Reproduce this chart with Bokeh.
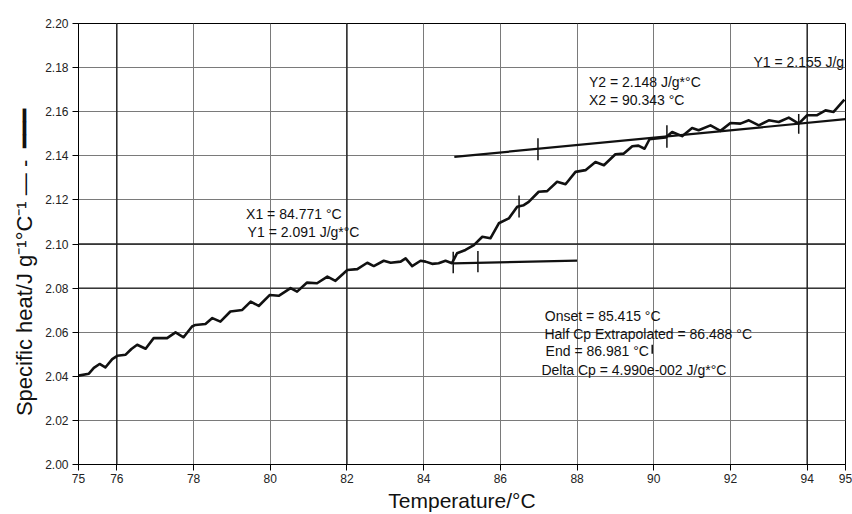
from bokeh.plotting import figure
from bokeh.models import FixedTicker, PrintfTickFormatter, Span, ColumnDataSource
from bokeh.core.properties import value
from bokeh.embed import file_html
from bokeh.resources import INLINE

# ---- data ----
temp = [75.00, 75.27, 75.40, 75.55, 75.70, 75.88, 76.01, 76.23, 76.38, 76.53, 76.75, 76.96,
        77.31, 77.53, 77.74, 77.96, 78.05, 78.31, 78.49, 78.70, 78.96, 79.27, 79.49, 79.70,
        79.99, 80.22, 80.53, 80.70, 80.96, 81.22, 81.49, 81.70, 82.01, 82.27, 82.53, 82.70,
        82.96, 83.14, 83.40, 83.53, 83.70, 83.92, 84.05, 84.22, 84.39, 84.57, 84.74, 84.87,
        85.09, 85.31, 85.53, 85.74, 85.96, 86.22, 86.44, 86.61, 86.74, 87.00, 87.22, 87.48,
        87.70, 87.96, 88.22, 88.48, 88.70, 89.00, 89.22, 89.44, 89.60, 89.76, 89.89, 90.00,
        90.31, 90.48, 90.74, 91.00, 91.17, 91.48, 91.74, 92.00, 92.26, 92.48, 92.74, 93.00,
        93.26, 93.52, 93.78, 94.00, 94.26, 94.48, 94.69, 94.97]
cp = [2.0403, 2.0412, 2.0438, 2.0456, 2.0440, 2.0478, 2.0493, 2.0498, 2.0524, 2.0543, 2.0525, 2.0573,
      2.0573, 2.0599, 2.0577, 2.0626, 2.0633, 2.0637, 2.0664, 2.0648, 2.0694, 2.0701, 2.0739, 2.0719,
      2.0769, 2.0765, 2.0800, 2.0784, 2.0825, 2.0822, 2.0852, 2.0833, 2.0882, 2.0886, 2.0915, 2.0900,
      2.0924, 2.0915, 2.0920, 2.0935, 2.0900, 2.0924, 2.0920, 2.0910, 2.0913, 2.0924, 2.0913, 2.0958,
      2.0973, 2.0995, 2.1033, 2.1026, 2.1094, 2.1116, 2.1169, 2.1176, 2.1191, 2.1237, 2.1240, 2.1282,
      2.1271, 2.1327, 2.1335, 2.1372, 2.1357, 2.1407, 2.1410, 2.1443, 2.1446, 2.1432, 2.1475, 2.1478,
      2.1483, 2.1508, 2.1489, 2.1526, 2.1516, 2.1538, 2.1513, 2.1549, 2.1546, 2.1561, 2.1538, 2.1561,
      2.1553, 2.1573, 2.1546, 2.1584, 2.1584, 2.1606, 2.1599, 2.1655]

base_x = [84.771, 88.0]
base_y = [2.0912, 2.0925]
upper_x = [84.80, 95.0]
upper_y = [2.1395, 2.1566]

mark_x = [84.771, 85.415, 86.488, 86.981, 90.343, 93.78, 89.96]
mark_y0 = [2.0867, 2.0872, 2.1120, 2.1380, 2.1437, 2.1500, 2.0502]
mark_y1 = [2.0965, 2.0968, 2.1220, 2.1480, 2.1538, 2.1590, 2.0543]

note_text = ["X1 = 84.771 °C", "Y1 = 2.091 J/g*°C",
             "Y2 = 2.148 J/g*°C", "X2 = 90.343 °C",
             "Y1 = 2.155 J/g",
             "Onset = 85.415 °C", "Half Cp Extrapolated = 86.488 °C",
             "End = 86.981 °C", "Delta Cp = 4.990e-002 J/g*°C"]
note_x = [79.37, 79.41, 88.31, 88.31, 92.60, 87.16, 87.15, 87.18, 87.07]
note_y = [2.1136, 2.1053, 2.1733, 2.1652, 2.1824, 2.0674, 2.0591, 2.0513, 2.0430]

x_ticks = [75, 76, 78, 80, 82, 84, 86, 88, 90, 92, 94, 95]
y_ticks = [2.00, 2.02, 2.04, 2.06, 2.08, 2.10, 2.12, 2.14, 2.16, 2.18, 2.20]
dark_x = [76, 82, 94]
dark_y = [2.08, 2.10]

FONT = "Liberation Sans"

p = figure(width=852, height=514, x_range=(75, 95), y_range=(2.00, 2.20),
           output_backend="svg", toolbar_location=None,
           min_border_left=78, min_border_right=7, min_border_top=23, min_border_bottom=49)
p.background_fill_color = "white"
p.border_fill_color = "white"
p.outline_line_color = "black"
p.outline_line_width = 1

p.xaxis.ticker = FixedTicker(ticks=x_ticks)
p.yaxis.ticker = FixedTicker(ticks=y_ticks)
p.xaxis.formatter = PrintfTickFormatter(format="%d")
p.yaxis.formatter = PrintfTickFormatter(format="%.2f")
for ax in (p.xaxis, p.yaxis):
    ax.axis_line_color = "black"
    ax.major_tick_line_color = "black"
    ax.major_tick_out = 6
    ax.major_tick_in = 0
    ax.minor_tick_line_color = None
    ax.major_label_text_font = FONT
    ax.major_label_text_font_size = "12px"
    ax.major_label_text_color = "#222222"
    ax.axis_label_text_font = FONT
    ax.axis_label_text_font_style = "normal"
    ax.axis_label_text_color = "#111111"
p.xaxis.axis_label_text_font_size = "21px"
p.yaxis.axis_label_text_font_size = "22px"
p.xaxis.major_label_standoff = 3
p.yaxis.major_label_standoff = 4
p.xaxis.axis_label = "Temperature/°C"
p.xaxis.axis_label_standoff = 3
p.yaxis.axis_label = ("Specific heat/J g⁻¹°C⁻¹\u00a0—\u00a0-\u00a0\u00a0━━━"
                      + "\u00a0" * 6)
p.yaxis.axis_label_standoff = 5

p.xgrid.grid_line_color = "#7a7a7a"
p.ygrid.grid_line_color = "#7a7a7a"
p.xgrid.grid_line_width = 1
p.ygrid.grid_line_width = 1

for v in dark_x:
    p.add_layout(Span(location=v, dimension="height", line_color="#222222",
                      line_width=1.4, level="underlay"))
for v in dark_y:
    p.add_layout(Span(location=v, dimension="width", line_color="#222222",
                      line_width=1.4, level="underlay"))

p.line(temp, cp, line_color="#111111", line_width=2.6, line_join="round")
p.line(base_x, base_y, line_color="#111111", line_width=2.2)
p.line(upper_x, upper_y, line_color="#111111", line_width=2.2)
p.segment(x0=mark_x, y0=mark_y0, x1=mark_x, y1=mark_y1, line_color="#111111", line_width=1.5)

src = ColumnDataSource(dict(x=note_x, y=note_y, t=note_text))
p.text(x="x", y="y", text="t", source=src, text_font=value(FONT),
       text_font_size="14px", text_color="#111111", text_align="left",
       text_baseline="middle")

open("out.html", "w").write(file_html(p, INLINE))
